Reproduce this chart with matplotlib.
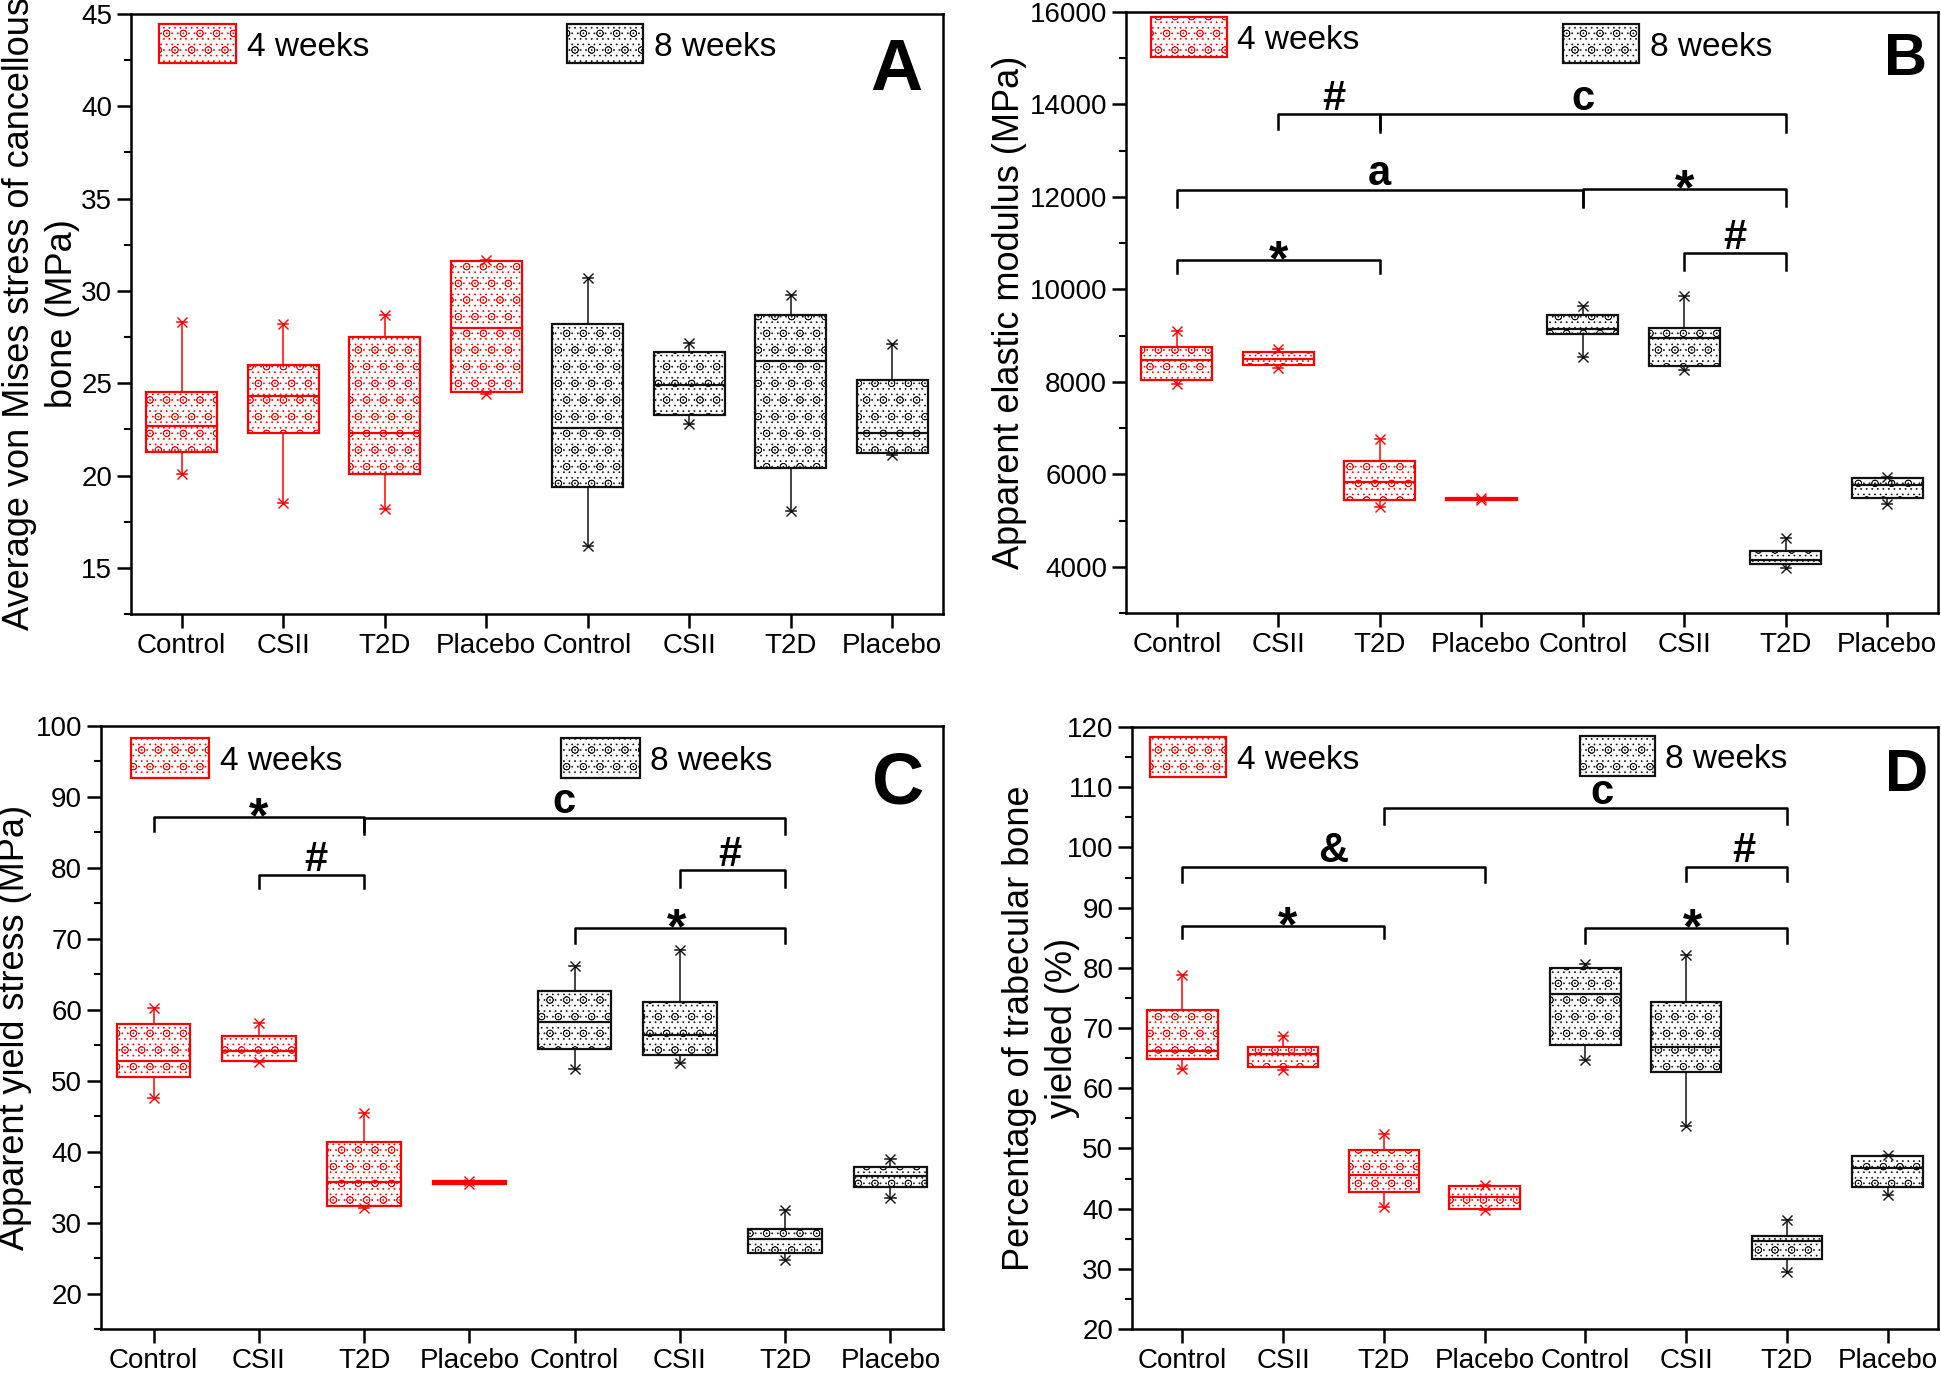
import matplotlib.pyplot as plt
from matplotlib.patches import Rectangle
from matplotlib.ticker import MultipleLocator

plt.rcParams['font.family'] = ['Liberation Sans', 'DejaVu Sans']
plt.rcParams['hatch.linewidth'] = 0.5

W, H = 1941, 1376
RED = '#ff0000'
BLACK = '#111111'

groups = ['Control', 'CSII', 'T2D', 'Placebo']

# each row: whisker low, Q1, median, Q3, whisker high
a_4wk = [[20.1, 21.3, 22.7, 24.5, 28.3], [18.5, 22.3, 24.3, 26.0, 28.2],
         [18.2, 20.1, 22.3, 27.5, 28.7], [24.4, 24.5, 28.0, 31.6, 31.7]]
a_8wk = [[16.2, 19.4, 22.6, 28.2, 30.7], [22.8, 23.3, 24.9, 26.7, 27.2],
         [18.1, 20.4, 26.2, 28.7, 29.8], [21.1, 21.2, 22.3, 25.2, 27.1]]
b_4wk = [[7950, 8040, 8470, 8760, 9090], [8290, 8360, 8500, 8650, 8700],
         [5290, 5450, 5840, 6290, 6760], [5455, 5455, 5470, 5485, 5490]]
b_8wk = [[8530, 9040, 9140, 9450, 9650], [8250, 8340, 8940, 9170, 9860],
         [3980, 4050, 4150, 4350, 4620], [5360, 5490, 5760, 5910, 5950]]
c_4wk = [[47.5, 50.5, 52.8, 58.0, 60.3], [52.6, 52.8, 54.2, 56.3, 58.2],
         [32.1, 32.4, 35.7, 41.3, 45.4], [35.5, 35.5, 35.65, 35.8, 35.8]]
c_8wk = [[51.6, 54.5, 58.3, 62.6, 66.2], [52.5, 53.6, 56.5, 61.1, 68.4],
         [24.7, 25.7, 27.7, 29.1, 31.8], [33.4, 35.0, 36.6, 37.9, 39.0]]
d_4wk = [[63.2, 64.9, 66.2, 73.0, 78.8], [63.0, 63.6, 65.7, 66.9, 68.7],
         [40.3, 42.7, 45.5, 49.7, 52.4], [39.7, 39.9, 41.9, 43.8, 43.9]]
d_8wk = [[64.7, 67.1, 75.6, 80.0, 80.6], [53.8, 62.7, 66.9, 74.3, 82.1],
         [29.4, 31.6, 34.6, 35.4, 38.1], [42.2, 43.6, 46.7, 48.7, 48.9]]

# significance brackets: label, left group, right group, bar height, leg drop, label x
a_brackets = []
b_brackets = [('#', 2, 3, 13800, 330, 2.55), ('c', 3, 7, 13800, 390, 5.0),
              ('a', 1, 5, 12160, 370, 3.0), ('*', 5, 7, 12180, 370, 6.0),
              ('*', 1, 3, 10640, 280, 2.0), ('#', 6, 7, 10790, 360, 6.5)]
c_brackets = [('*', 1, 3, 87.2, 2.0, 2.0), ('c', 3, 7, 87.1, 2.3, 4.9),
              ('#', 2, 3, 79.0, 1.9, 2.54), ('#', 6, 7, 79.7, 2.4, 6.47),
              ('*', 5, 7, 71.5, 2.1, 5.97)]
d_brackets = [('c', 3, 7, 106.5, 2.6, 5.16), ('&', 1, 4, 96.8, 2.5, 2.5),
              ('#', 6, 7, 96.8, 2.3, 6.57), ('*', 1, 3, 87.0, 2.0, 2.04),
              ('*', 5, 7, 86.6, 2.5, 6.06)]


def to_stats(rows):
    return [dict(whislo=r[0], q1=r[1], med=r[2], q3=r[3], whishi=r[4]) for r in rows]


def draw_boxes(ax, rows, positions, color):
    ax.bxp(to_stats(rows), positions=positions, widths=0.7, patch_artist=True,
           showfliers=False, capwidths=0.1,
           boxprops=dict(facecolor='white', edgecolor=color, hatch='o...', linewidth=1.6),
           medianprops=dict(color=color, linewidth=1.6),
           whiskerprops=dict(color=color, linewidth=1.1),
           capprops=dict(color=color, linewidth=1.1))
    # min / max markers at the whisker ends
    for p, r in zip(positions, rows):
        ax.plot([p, p], [r[0], r[4]], ls='none', marker='x', ms=7, mew=1.0, color=color)


def draw_brackets(ax, brackets):
    for lab, x0, x1, y, drop, xl in brackets:
        ax.plot([x0, x0, x1, x1], [y - drop, y, y, y - drop], color='black', lw=1.8)
        if lab == '*':
            ax.annotate(lab, (xl, y), xytext=(0, -11), textcoords='offset points',
                        ha='center', va='baseline', fontsize=36, fontweight='bold')
        else:
            ax.annotate(lab, (xl, y), xytext=(0, 3), textcoords='offset points',
                        ha='center', va='baseline', fontsize=30, fontweight='bold')


def key(fig, box, tx, color, text):
    x0, y0, x1, y1 = box
    fig.add_artist(Rectangle((x0 / W, 1 - y1 / H), (x1 - x0) / W, (y1 - y0) / H,
                             transform=fig.transFigure, facecolor='white',
                             edgecolor=color, hatch='o...', linewidth=1.6))
    fig.text(tx / W, 1 - (y0 + y1) / 2 / H, text, fontsize=24,
             va='center_baseline', ha='left')


fig = plt.figure(figsize=(W / 100, H / 100), dpi=100)

panels = [
    dict(rect=(131, 14, 943, 614), d4=a_4wk, d8=a_8wk, br=a_brackets, ylim=(12.5, 45),
         major=5, minor=2.5, ticks=(15, 45),
         ylabel='Average von Mises stress of cancellous\nbone (MPa)', lx=-0.063,
         keys=((159, 24, 236, 63), 247, (567, 24, 643, 63), 654),
         letter='A', lpos=(922, 90), lsize=52),
    dict(rect=(1126, 12, 1938, 613), d4=b_4wk, d8=b_8wk, br=b_brackets, ylim=(3000, 16000),
         major=2000, minor=1000, ticks=(4000, 16000),
         ylabel='Apparent elastic modulus (MPa)', lx=-0.122,
         keys=((1151, 17, 1227, 57), 1237, (1563, 24, 1639, 63), 1650),
         letter='B', lpos=(1927, 75), lsize=43),
    dict(rect=(101, 726, 943, 1329), d4=c_4wk, d8=c_8wk, br=c_brackets, ylim=(15, 100),
         major=10, minor=5, ticks=(20, 100),
         ylabel='Apparent yield stress (MPa)', lx=-0.082,
         keys=((131, 738, 209, 778), 220, (561, 738, 640, 778), 650),
         letter='C', lpos=(924, 804), lsize=52),
    dict(rect=(1132, 727, 1938, 1329), d4=d_4wk, d8=d_8wk, br=d_brackets, ylim=(20, 120),
         major=10, minor=5, ticks=(20, 120),
         ylabel='Percentage of trabecular bone\nyielded (%)', lx=-0.064,
         keys=((1150, 737, 1226, 777), 1237, (1580, 736, 1655, 776), 1665),
         letter='D', lpos=(1928, 791), lsize=43),
]

for p in panels:
    l, t, r, b = p['rect']
    ax = fig.add_axes([l / W, 1 - b / H, (r - l) / W, (b - t) / H])
    draw_boxes(ax, p['d4'], [1, 2, 3, 4], RED)
    draw_boxes(ax, p['d8'], [5, 6, 7, 8], BLACK)
    draw_brackets(ax, p['br'])

    ax.set_xlim(0.5, 8.5)
    ax.set_ylim(*p['ylim'])
    ax.set_xticks(range(1, 9))
    ax.set_xticklabels(groups + groups, fontsize=20)
    lo, hi = p['ticks']
    ax.set_yticks([lo + i * p['major'] for i in range(int(round((hi - lo) / p['major'])) + 1)])
    ax.yaxis.set_minor_locator(MultipleLocator(p['minor']))
    ax.tick_params(axis='y', labelsize=20)
    ax.tick_params(which='major', direction='out', length=10, width=1.8)
    ax.tick_params(which='minor', direction='out', length=5, width=1.5)
    ax.tick_params(axis='x', which='minor', bottom=False)
    for s in ax.spines.values():
        s.set_linewidth(1.8)
    ax.set_ylabel(p['ylabel'], fontsize=26, linespacing=1.3)
    ax.yaxis.set_label_coords(p['lx'], 0.5)

    rk, rtx, bk, btx = p['keys']
    key(fig, rk, rtx, RED, '4 weeks')
    key(fig, bk, btx, BLACK, '8 weeks')
    fig.text(p['lpos'][0] / W, 1 - p['lpos'][1] / H, p['letter'], fontsize=p['lsize'],
             fontweight='bold', ha='right', va='baseline')

fig.savefig('out.png', dpi=100)
